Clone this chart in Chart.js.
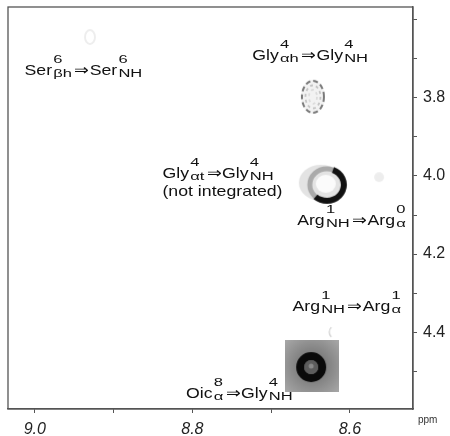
<!DOCTYPE html>
<html>
<head>
<meta charset="utf-8">
<script src="https://cdn.jsdelivr.net/npm/chart.js@4.4.1/dist/chart.umd.min.js"></script>
<style>
html, body { margin: 0; padding: 0; background: #fff; }
#wrap { width: 450px; height: 436px; }
</style>
</head>
<body>
<div id="wrap"><canvas id="nmr" width="450" height="436"></canvas></div>
<script>
// cross peak positions (ppm)
const peakNames = ['Ser6', 'Gly4ah', 'Gly4at', 'Arg0', 'Arg1', 'Oic8'];
const peakX = [8.930, 8.647, 8.632, 8.563, 8.625, 8.648];
const peakY = [3.644, 3.797, 4.020, 4.003, 4.400, 4.487];

// axis ticks (every 0.1 ppm), only some get a label
const xTicks = [9.0, 8.9, 8.8, 8.7, 8.6];
const xLabels = ['9.0', '8.8', '8.6'];
const yTicks = [3.6, 3.7, 3.8, 3.9, 4.0, 4.1, 4.2, 4.3, 4.4, 4.5];
const yLabels = ['3.8', '4.0', '4.2', '4.4'];

// assignments, ^{sup}_{sub} markup, anchored at left/baseline in ppm
const labelText = [
    'Ser^{6}_{βh}⇒Ser^{6}_{NH}',
    'Gly^{4}_{αh}⇒Gly^{4}_{NH}',
    'Gly^{4}_{αt}⇒Gly^{4}_{NH}',
    '(not integrated)',
    'Arg^{1}_{NH}⇒Arg^{0}_{α}',
    'Arg^{1}_{NH}⇒Arg^{1}_{α}',
    'Oic^{8}_{α}⇒Gly^{4}_{NH}'
];
const labelX = [9.013, 8.724, 8.838, 8.838, 8.667, 8.673, 8.808];
const labelY = [3.741, 3.703, 4.005, 4.051, 4.126, 4.346, 4.569];

const mainFont = '15px "Liberation Sans", Arial, sans-serif';
const smallFont = '10px "Liberation Sans", Arial, sans-serif';

function makeCanvas(w, h, draw) {
    const c = document.createElement('canvas');
    c.width = w; c.height = h;
    draw(c.getContext('2d'), w / 2, h / 2);
    return c;
}
function ell(ctx, x, y, rx, ry, a0, a1) {
    ctx.beginPath();
    ctx.ellipse(x, y, rx, ry, 0, a0 || 0, a1 === undefined ? Math.PI * 2 : a1);
}

// contour-ish pictures of each cross peak
const peakImages = [
    makeCanvas(16, 22, (ctx, cx, cy) => {
        ctx.strokeStyle = 'rgba(0,0,0,0.07)'; ctx.lineWidth = 2;
        ell(ctx, cx, cy, 5, 7); ctx.stroke();
    }),
    makeCanvas(32, 42, (ctx, cx, cy) => {
        ctx.fillStyle = 'rgba(0,0,0,0.05)'; ell(ctx, cx, cy, 12, 17); ctx.fill();
        ctx.setLineDash([5, 3]);
        ctx.lineWidth = 2; ctx.strokeStyle = 'rgba(20,20,20,0.55)';
        ell(ctx, cx, cy, 11, 16); ctx.stroke();
        ctx.setLineDash([3, 3]);
        ctx.lineWidth = 1.8; ctx.strokeStyle = 'rgba(0,0,0,0.2)';
        ell(ctx, cx, cy, 7.5, 11.5); ctx.stroke();
        ctx.strokeStyle = 'rgba(0,0,0,0.1)';
        ell(ctx, cx, cy, 4, 7); ctx.stroke();
    }),
    makeCanvas(58, 46, (ctx, cx, cy) => {
        ctx.fillStyle = 'rgba(0,0,0,0.11)'; ell(ctx, cx - 4, cy - 1, 22, 18); ctx.fill();
        ctx.lineWidth = 5; ctx.strokeStyle = 'rgba(0,0,0,0.25)';
        ell(ctx, cx + 2, cy + 1, 17, 16); ctx.stroke();
        ctx.lineWidth = 6; ctx.strokeStyle = '#111';
        ell(ctx, cx + 2, cy + 1, 17, 16, -1.2, 2.3); ctx.stroke();
        ctx.fillStyle = 'rgba(255,255,255,0.85)'; ell(ctx, cx + 1, cy, 10, 9); ctx.fill();
    }),
    makeCanvas(14, 14, (ctx, cx, cy) => {
        ctx.fillStyle = 'rgba(0,0,0,0.07)'; ell(ctx, cx, cy, 5, 5); ctx.fill();
    }),
    makeCanvas(8, 12, (ctx, cx, cy) => {
        ctx.strokeStyle = 'rgba(0,0,0,0.2)'; ctx.lineWidth = 1.2;
        ctx.beginPath(); ctx.moveTo(cx + 1, cy - 5); ctx.quadraticCurveTo(cx - 3, cy, cx + 1, cy + 5); ctx.stroke();
    }),
    makeCanvas(54, 52, (ctx, cx, cy) => {
        const g = ctx.createRadialGradient(cx, cy, 4, cx, cy, 36);
        g.addColorStop(0, '#6e6e6e'); g.addColorStop(1, '#a6a6a6');
        ctx.fillStyle = g; ctx.fillRect(0, 0, 54, 52);
        ctx.lineWidth = 8; ctx.strokeStyle = '#0a0a0a';
        ell(ctx, cx - 1, cy + 1, 11, 11); ctx.stroke();
        ctx.fillStyle = '#5d5d5d'; ell(ctx, cx - 1, cy + 1, 7, 7); ctx.fill();
        ctx.fillStyle = '#8a8a8a'; ell(ctx, cx - 1, cy, 2.5, 2.5); ctx.fill();
    })
];

function parseLabel(str) {
    const out = [];
    const re = /\^\{([^}]*)\}_\{([^}]*)\}|([^^]+)/g;
    let m;
    while ((m = re.exec(str)) !== null) {
        if (m[3] !== undefined) out.push({ txt: m[3] });
        else out.push({ sup: m[1], sub: m[2] });
    }
    return out;
}

const textStretch = 1.18;
const smallStretch = 1.4;

function drawLabel(ctx, str, x, y) {
    ctx.save();
    ctx.translate(x, y);
    ctx.scale(textStretch, 1);
    ctx.fillStyle = '#111';
    ctx.textBaseline = 'alphabetic';
    let cx = 0;
    parseLabel(str).forEach(p => {
        if (p.txt !== undefined) {
            ctx.font = mainFont;
            ctx.fillText(p.txt, cx, 0);
            cx += ctx.measureText(p.txt).width;
        } else {
            ctx.font = smallFont;
            const w = Math.max(ctx.measureText(p.sup).width, ctx.measureText(p.sub).width) * smallStretch;
            ctx.save(); ctx.translate(cx + 1, 0); ctx.scale(smallStretch, 1);
            ctx.fillText(p.sup, 0, -12);
            ctx.fillText(p.sub, 0, 2);
            ctx.restore();
            cx += w + 3;
        }
    });
    ctx.restore();
}

const annotPlugin = {
    id: 'annot',
    afterDraw(chart) {
        const ctx = chart.ctx, a = chart.chartArea;
        const xs = chart.scales.x, ys = chart.scales.y;
        ctx.save();
        ctx.strokeStyle = '#555'; ctx.lineWidth = 1.3;
        ctx.strokeRect(a.left, a.top, a.right - a.left, a.bottom - a.top);
        labelText.forEach((t, i) => {
            drawLabel(ctx, t, xs.getPixelForValue(labelX[i]), ys.getPixelForValue(labelY[i]));
        });
        ctx.fillStyle = '#333';
        ctx.font = '10px "Liberation Sans", Arial, sans-serif';
        ctx.textBaseline = 'alphabetic';
        ctx.fillText('ppm', a.right + 5, a.bottom + 14);
        ctx.restore();
    }
};

new Chart(document.getElementById('nmr'), {
    type: 'scatter',
    data: {
        datasets: [{
            label: 'cross peaks',
            data: peakX.map((x, i) => ({ x: x, y: peakY[i] })),
            pointStyle: peakImages,
            clip: false
        }]
    },
    options: {
        responsive: false,
        animation: false,
        events: [],
        layout: { padding: { left: 8, top: 7, right: 0, bottom: 0 } },
        plugins: { legend: { display: false }, tooltip: { enabled: false } },
        scales: {
            x: {
                type: 'linear', reverse: true, min: 8.52, max: 9.034,
                afterBuildTicks: s => { s.ticks = xTicks.map(v => ({ value: v })); },
                afterFit: s => { s.height = 27; s.paddingLeft = 0; s.paddingRight = 0; },
                grid: { drawOnChartArea: false, tickLength: 4, color: '#555' },
                border: { color: '#555', width: 1.3 },
                ticks: {
                    padding: 7, color: '#222',
                    font: { family: '"Liberation Sans", Arial', size: 16, style: 'italic' },
                    callback: v => xLabels.includes(v.toFixed(1)) ? v.toFixed(1) : ''
                }
            },
            y: {
                type: 'linear', position: 'right', reverse: true, min: 3.567, max: 4.597,
                afterBuildTicks: s => { s.ticks = yTicks.map(v => ({ value: v })); },
                afterFit: s => { s.width = 37; s.paddingTop = 0; s.paddingBottom = 0; },
                grid: { drawOnChartArea: false, tickLength: 4, color: '#555' },
                border: { color: '#555', width: 1.3 },
                ticks: {
                    padding: 6, color: '#222',
                    font: { family: '"Liberation Sans", Arial', size: 16 },
                    callback: v => yLabels.includes(v.toFixed(1)) ? v.toFixed(1) : ''
                }
            }
        }
    },
    plugins: [annotPlugin]
});
</script>
</body>
</html>
